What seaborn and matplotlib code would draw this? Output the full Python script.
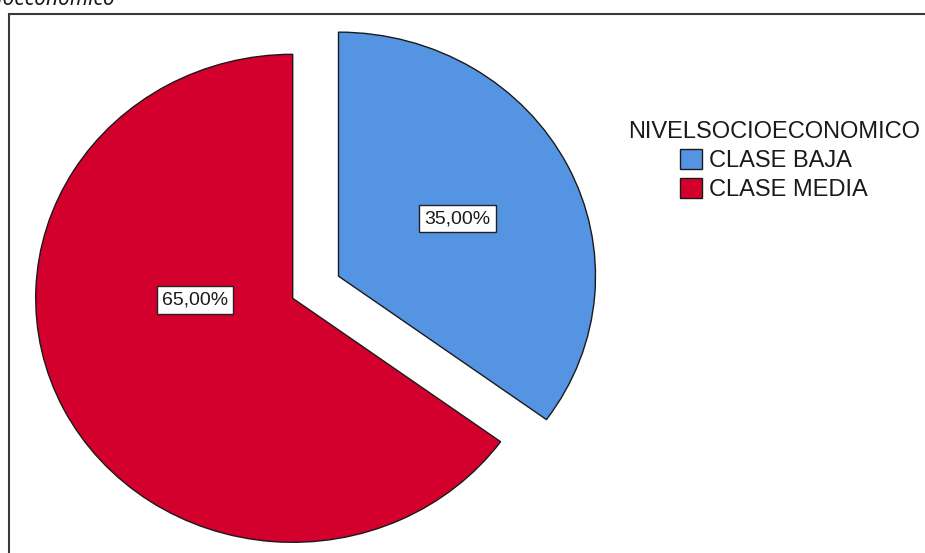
import matplotlib
matplotlib.use("Agg")
import matplotlib.pyplot as plt
from matplotlib.patches import Patch, Rectangle
import seaborn as sns

# Data
categories = ["CLASE BAJA", "CLASE MEDIA"]
percentages = [35.0, 65.0]
legend_title = "NIVELSOCIOECONOMICO"
caption = "Nivel socioeconómico"

sns.set_theme(style="white")
plt.rcParams["font.family"] = ["Liberation Sans", "DejaVu Sans"]

colors = sns.color_palette(["#5594E2", "#D3002D"])

W, H = 925, 553
fig = plt.figure(figsize=(W / 100, H / 100), dpi=100)
fig.patch.set_facecolor("white")

ax = fig.add_axes([0, 0, 1, 1])

def fmt(p):
    return f"{p:.2f}%".replace(".", ",")

wedges, texts, autotexts = ax.pie(
    percentages,
    colors=colors,
    explode=[0.2, 0.0],
    startangle=90,
    counterclock=False,
    autopct=fmt,
    pctdistance=0.52,
    wedgeprops=dict(edgecolor="#1a1a1a", linewidth=1.0),
    textprops=dict(fontsize=14, color="#1a1a1a"),
)

# the larger slice keeps its label left of centre
autotexts[1].set_position((-0.38, -0.007))
for t in autotexts:
    t.set_bbox(dict(boxstyle="square,pad=0.27", facecolor="white",
                    edgecolor="#222222", linewidth=1.0))

# slightly wider than tall, as the pie is drawn in pixel space
cx, cy, rx, ry = 292.7, 298.3, 257.0, 244.0
ax.set_aspect("auto")
ax.set_xlim(-cx / rx, (W - cx) / rx)
ax.set_ylim(-(H - cy) / ry, cy / ry)
ax.axis("off")

handles = [Patch(facecolor=c, edgecolor="#1a1a1a", linewidth=1.0) for c in colors]
leg = fig.legend(
    handles, categories, title=legend_title,
    loc="center", bbox_to_anchor=(774 / W, 1 - 161 / H),
    frameon=False, fontsize=17, title_fontsize=17,
    handlelength=0.9, handleheight=0.9, handletextpad=0.3,
    labelspacing=0.25, borderpad=0.0,
)
for t in leg.get_texts():
    t.set_color("#1a1a1a")
leg.get_title().set_color("#1a1a1a")

# surrounding frame
fig.add_artist(Rectangle((8.5 / W, -0.1), 1.2, (H - 14) / H + 0.1,
                         transform=fig.transFigure, fill=False,
                         edgecolor="#3a3a3a", linewidth=1.5))

fig.text(115 / W, 1 - 5 / H, caption, ha="right", va="baseline",
         style="italic", fontsize=15, family=["Noto Sans", "DejaVu Sans"],
         color="#1a1a1a")

fig.savefig("out.png", dpi=100, facecolor="white")
